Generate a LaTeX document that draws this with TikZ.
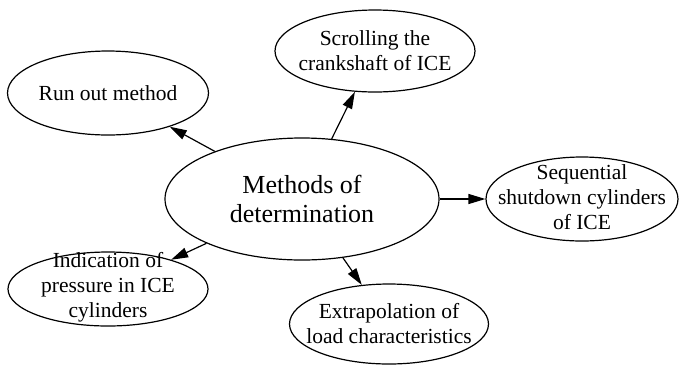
\documentclass[tikz,border=0pt]{standalone}
\usepackage{fontspec}
\setmainfont{Liberation Serif}
\usetikzlibrary{shapes.geometric,arrows.meta}
\begin{document}
\begin{tikzpicture}[x=1pt,y=-1pt,
  oval/.style={ellipse,draw,line width=1.2pt,inner sep=0pt},
  txt/.style={align=center,inner sep=0pt,font=\fontsize{21.5}{25}\selectfont},
  link/.style={line width=1.2pt,-{Triangle[length=17pt,width=10pt]}}]
\useasboundingbox (0,0) rectangle (682,368);
\node[oval,minimum width=274pt,minimum height=122pt] (c) at (302,199) {};
\node[oval,minimum width=201pt,minimum height=84pt] (r) at (108,93) {};
\node[oval,minimum width=200pt,minimum height=82pt] (s) at (375,51) {};
\node[oval,minimum width=192pt,minimum height=84pt] (q) at (582,199) {};
\node[oval,minimum width=200pt,minimum height=74pt] (i) at (108,289) {};
\node[oval,minimum width=199pt,minimum height=80pt] (e) at (389,324) {};
\node[txt,font=\fontsize{26}{29}\selectfont] (ct) at (c) {Methods of\\determination};
\node[txt] (rt) at (r) {Run out method};
\node[txt] (st) at (s) {Scrolling the\\crankshaft of ICE};
\node[txt] (qt) at ([yshift=2pt]q) {Sequential\\shutdown cylinders\\of ICE};
\node[txt] (it) at ([yshift=2pt]i) {Indication of\\pressure in ICE\\cylinders};
\node[txt] (et) at (e) {Extrapolation of\\load characteristics};
\draw[link] (c) -- (r);
\draw[link] (c) -- (s);
\draw[link] (c) -- (q);
\draw[link] (c) -- (i);
\draw[link] (c) -- (e);
\end{tikzpicture}
\end{document}
